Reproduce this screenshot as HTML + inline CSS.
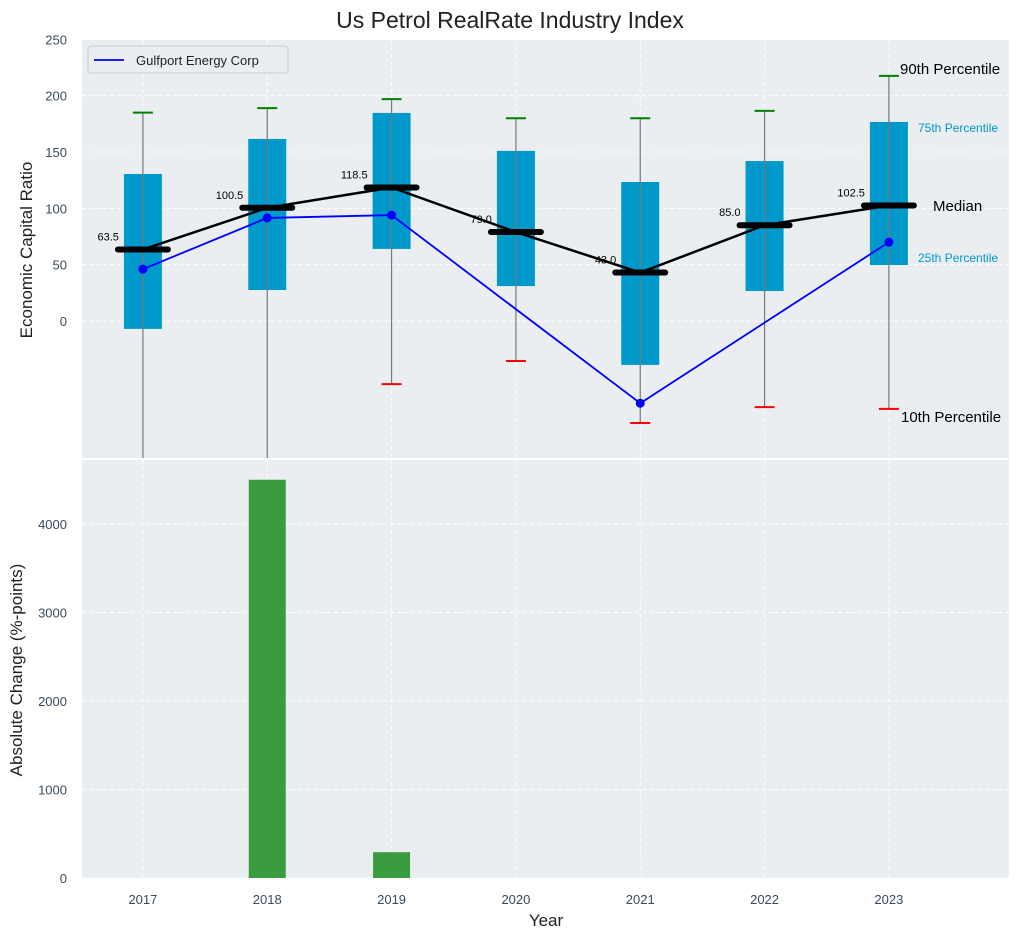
<!DOCTYPE html>
<html><head><meta charset="utf-8"><style>
body{margin:0;background:#fff;font-family:"Liberation Sans",sans-serif}
svg{display:block}
text{font-family:"Liberation Sans",sans-serif}
</style></head><body>
<svg id="c" width="1021" height="940"></svg>
<script>
const years=[2017,2018,2019,2020,2021,2022,2023];
const p90=[185,189,197,180,180,186.5,217.6];
const q75=[130.5,161.6,184.7,151,123.4,142,176.7];
const medians=[63.5,100.5,118.5,79.0,43.0,85.0,102.5];
const q25=[-7,27.5,64,31,-39,26.6,49.7];
const p10=[-200,-200,-56,-35.5,-90.6,-76.4,-78];
const company=[46,91.5,94,null,-73,null,70];
const changes=[0,4500,292,0,0,0,0];
const topTicks=[0,50,100,150,200,250];
const botTicks=[0,1000,2000,3000,4000];

const NS="http://www.w3.org/2000/svg";
const svg=document.getElementById('c');
function mk(tag,attrs,parent){const e=document.createElementNS(NS,tag);for(const k in attrs)e.setAttribute(k,attrs[k]);(parent||svg).appendChild(e);return e;}
const L=82,R=1009;
const x=v=>L+(v-2016.51)/(2023.966-2016.51)*(R-L);
const T0=40,T1=458;const yT=v=>321-v*1.1265;
const B0=460,B1=878;const yB=v=>878-v*(878-524)/4000;

let t=mk('text',{x:510,y:28,'text-anchor':'middle','font-size':23,fill:'#222'});t.textContent='Us Petrol RealRate Industry Index';


let bg=mk('rect',{x:L,y:T0,width:R-L,height:T1-T0,fill:'#eaeef0'});

let bg2=mk('rect',{x:L,y:B0,width:R-L,height:B1-B0,fill:'#eaeef0'});


const clipT=mk('clipPath',{id:'ct'});mk('rect',{x:L,y:T0,width:R-L,height:T1-T0},clipT);
const gT=mk('g',{'clip-path':'url(#ct)'});


years.forEach(y=>{
 mk('line',{x1:x(y),x2:x(y),y1:T0,y2:T1,stroke:'#fff','stroke-dasharray':'4,3','stroke-width':1},gT);
 mk('line',{x1:x(y),x2:x(y),y1:B0,y2:B1,stroke:'#fff','stroke-dasharray':'4,3','stroke-width':1});
 let lb=mk('text',{x:x(y),y:904,'text-anchor':'middle','font-size':13,fill:'#3a4a5a'});lb.textContent=y;
 
});
topTicks.forEach(v=>{
 mk('line',{x1:L,x2:R,y1:yT(v),y2:yT(v),stroke:'#fff','stroke-dasharray':'4,3'},gT);
 let lb=mk('text',{x:67,y:yT(v)+5,'text-anchor':'end','font-size':13,fill:'#3a4a5a'});lb.textContent=v;
 
});
botTicks.forEach(v=>{
 mk('line',{x1:L,x2:R,y1:yB(v),y2:yB(v),stroke:'#fff','stroke-dasharray':'4,3'});
 let lb=mk('text',{x:67,y:yB(v)+5,'text-anchor':'end','font-size':13,fill:'#3a4a5a'});lb.textContent=v;
 
});

years.forEach((yr,i)=>{
 const cx=x(yr),bw=38;
 let b=mk('rect',{x:cx-bw/2,y:yT(q75[i]),width:bw,height:yT(q25[i])-yT(q75[i]),fill:'#0099cc'},gT);
 
 let w=mk('line',{x1:cx,x2:cx,y1:yT(p90[i]),y2:yT(p10[i]),stroke:'#777','stroke-width':1.2},gT);
 
 mk('line',{x1:cx-10,x2:cx+10,y1:yT(p90[i]),y2:yT(p90[i]),stroke:'green','stroke-width':2},gT);
 mk('line',{x1:cx-10,x2:cx+10,y1:yT(p10[i]),y2:yT(p10[i]),stroke:'red','stroke-width':2},gT);
});
let mp=years.map((yr,i)=>x(yr)+','+yT(medians[i])).join(' ');
let ml=mk('polyline',{points:mp,fill:'none',stroke:'#000','stroke-width':2.5},gT);

years.forEach((yr,i)=>{
 let m=mk('line',{x1:x(yr)-25,x2:x(yr)+25,y1:yT(medians[i]),y2:yT(medians[i]),stroke:'#000','stroke-width':6,'stroke-linecap':'round'},gT);
 
 let lb=mk('text',{x:x(yr)-24,y:yT(medians[i])-9,'text-anchor':'end','font-size':11,fill:'#000'},gT);lb.textContent=medians[i].toFixed(1);
 
});
let cp=[];years.forEach((yr,i)=>{if(company[i]!==null)cp.push(x(yr)+','+yT(company[i]));});
let cl=mk('polyline',{points:cp.join(' '),fill:'none',stroke:'#0000ff','stroke-width':1.8},gT);

years.forEach((yr,i)=>{if(company[i]===null)return;
 let c=mk('circle',{cx:x(yr),cy:yT(company[i]),r:4.5,fill:'#0000ff'},gT);
 });

const ann=[['90th Percentile',900,74,15,'#000'],['75th Percentile',918,132,12,'#0099cc'],['Median',933,211,15,'#000'],['25th Percentile',918,262,12,'#0099cc'],['10th Percentile',901,422,15,'#000']];
ann.forEach(a=>{let e=mk('text',{x:a[1],y:a[2],'font-size':a[3],fill:a[4]});e.textContent=a[0];
 });

let lg=mk('g',{});
mk('rect',{x:88,y:46,width:200,height:27,fill:'#eaeef0',stroke:'#ccc',rx:3},lg);
mk('line',{x1:94,x2:124,y1:60,y2:60,stroke:'#0000ff','stroke-width':1.8},lg);
let lt=mk('text',{x:136,y:65,'font-size':13,fill:'#222'},lg);lt.textContent='Gulfport Energy Corp';

years.forEach((yr,i)=>{
 let b=mk('rect',{x:x(yr)-18.5,y:yB(changes[i]),width:37,height:yB(0)-yB(changes[i]),fill:'#3a9c3e'});
 
});

let yl=mk('text',{x:0,y:0,transform:'translate(32,250) rotate(-90)','text-anchor':'middle','font-size':17,fill:'#222'});yl.textContent='Economic Capital Ratio';

let yl2=mk('text',{x:0,y:0,transform:'translate(22,670) rotate(-90)','text-anchor':'middle','font-size':17,fill:'#222'});yl2.textContent='Absolute Change (%-points)';

let xl=mk('text',{x:546,y:926,'text-anchor':'middle','font-size':17,fill:'#222'});xl.textContent='Year';

</script>
</body></html>
